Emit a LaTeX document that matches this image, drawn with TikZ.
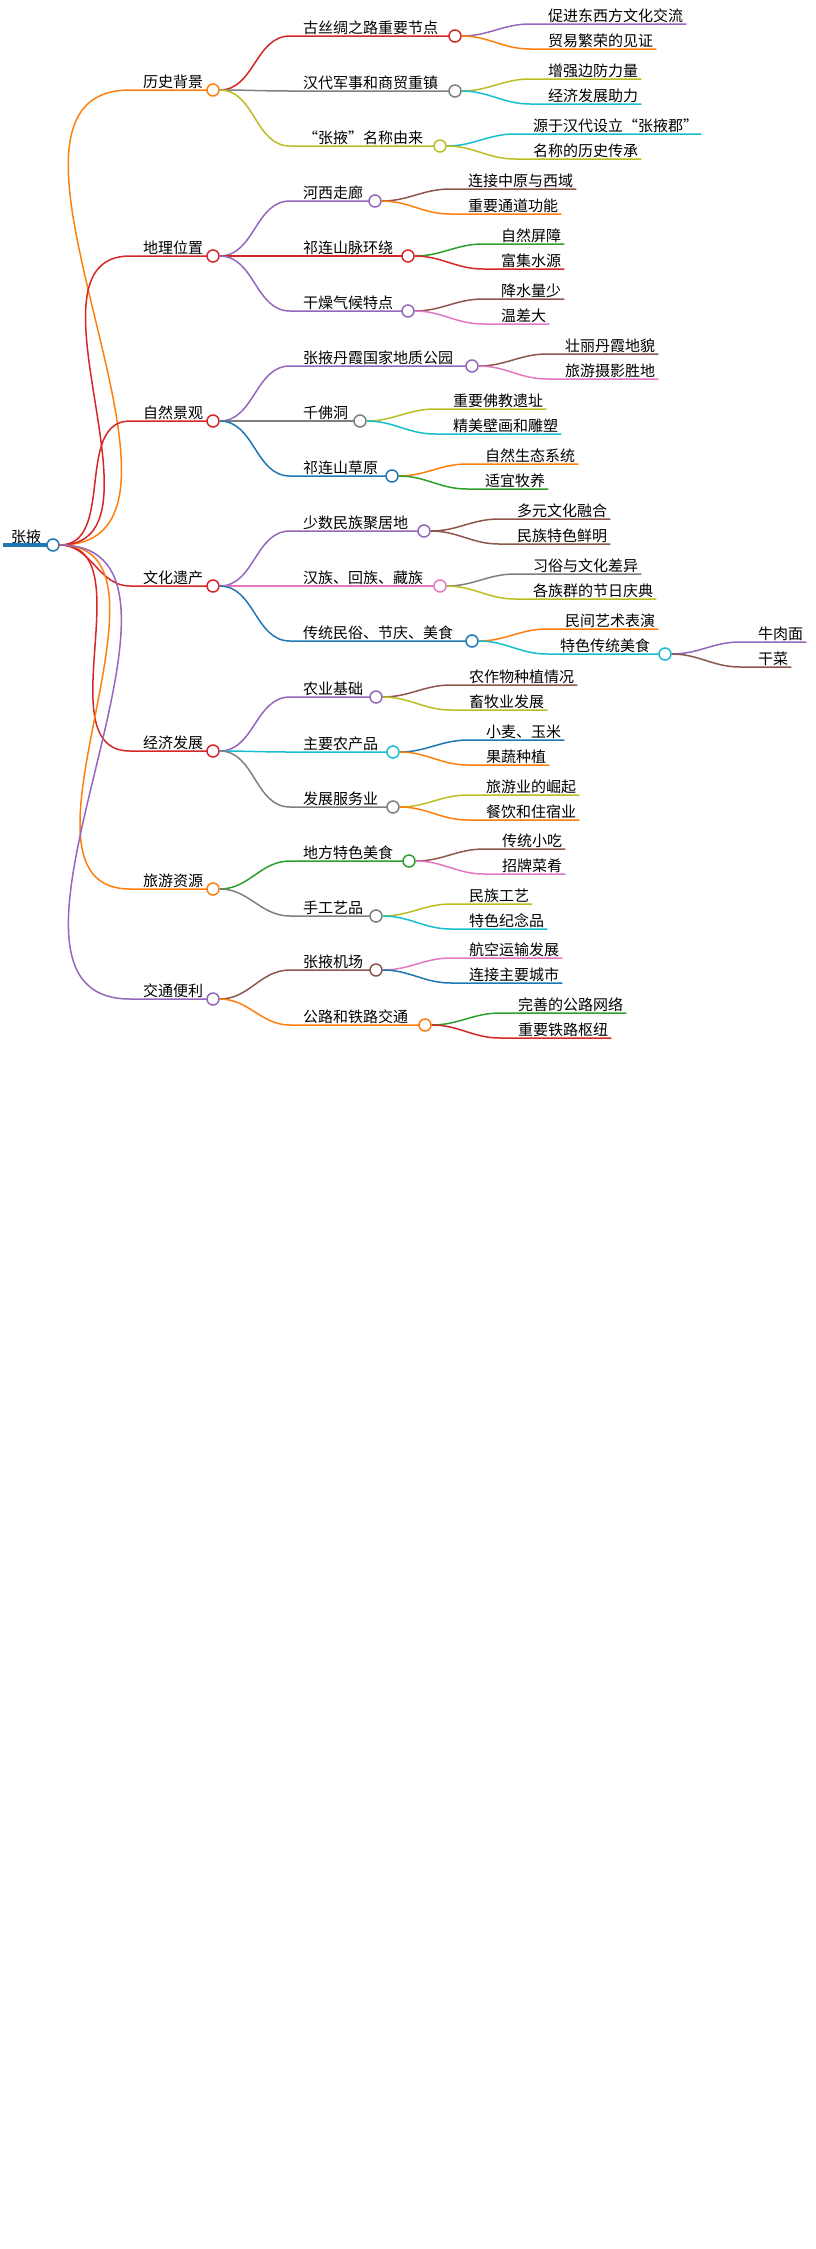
\documentclass[tikz,border=0pt]{standalone}
\usepackage{fontspec}
\setmainfont{Noto Sans CJK SC}
\definecolor{tblue}{HTML}{1F77B4}
\definecolor{torange}{HTML}{FF7F0E}
\definecolor{tgreen}{HTML}{2CA02C}
\definecolor{tred}{HTML}{D62728}
\definecolor{tpurple}{HTML}{9467BD}
\definecolor{tbrown}{HTML}{8C564B}
\definecolor{tpink}{HTML}{E377C2}
\definecolor{tgray}{HTML}{7F7F7F}
\definecolor{tolive}{HTML}{BCBD22}
\definecolor{tcyan}{HTML}{17BECF}
\tikzset{
	lbl/.style={inner xsep=3pt,inner ysep=1pt,font=\fontsize{15}{17}\selectfont},
	dot/.style={circle,minimum size=12pt,inner sep=0pt,fill=white,line width=1.5pt},
	edge/.style={line width=1.5pt}
}
% parent, name, line x, y, circle x, colour, text
\newcommand{\kid}[7]{%
	\node[lbl,anchor=south west] (#2t) at (#3+10,#4) {#7};
	\draw[edge,#6] (#1) to[out=0,in=180] (#3,#4) -- (#5,#4);
	\node[dot,draw=#6] (#2) at (#5,#4) {};}
% parent, name, line x, y, colour, text
\newcommand{\leaf}[6]{%
	\node[lbl,anchor=south west] (#2) at (#3+15,#4) {#6};
	\draw[edge,#5] (#1) to[out=0,in=180] (#3,#4) -- (#2.south east);}
\begin{document}
\begin{tikzpicture}[x=1pt,y=-1pt]
	\useasboundingbox (0,0) rectangle (816,2249);
	
	\node[lbl,anchor=south west] (roott) at (8,545) {张掖};
	\draw[tblue,line width=4pt] (3,545) -- (48,545);
	\node[dot,draw=tblue] (root) at (53,545) {};
	
	% first level
	\kid{root}{hist}{130}{90}{213}{torange}{历史背景}
	\kid{root}{geo}{130}{256}{213}{tred}{地理位置}
	\kid{root}{nat}{130}{421}{213}{tred}{自然景观}
	\kid{root}{cul}{130}{586}{213}{tred}{文化遗产}
	\kid{root}{eco}{130}{751}{213}{tred}{经济发展}
	\kid{root}{tour}{130}{889}{213}{torange}{旅游资源}
	\kid{root}{traf}{130}{999}{213}{tpurple}{交通便利}
	
	% history
	\kid{hist}{silk}{290}{36}{455}{tred}{古丝绸之路重要节点}
	\kid{hist}{han}{290}{91}{455}{tgray}{汉代军事和商贸重镇}
	\kid{hist}{name}{290}{146}{440}{tolive}{“张掖”名称由来}
	\leaf{silk}{silka}{530}{24}{tpurple}{促进东西方文化交流}
	\leaf{silk}{silkb}{530}{49}{torange}{贸易繁荣的见证}
	\leaf{han}{hana}{530}{79}{tolive}{增强边防力量}
	\leaf{han}{hanb}{530}{104}{tcyan}{经济发展助力}
	\leaf{name}{namea}{515}{134}{tcyan}{源于汉代设立“张掖郡”}
	\leaf{name}{nameb}{515}{159}{tolive}{名称的历史传承}
	
	% geography
	\kid{geo}{hexi}{290}{201}{375}{tpurple}{河西走廊}
	\kid{geo}{qlm}{290}{256}{408}{tred}{祁连山脉环绕}
	\kid{geo}{dry}{290}{311}{408}{tpurple}{干燥气候特点}
	\leaf{hexi}{hexia}{450}{189}{tbrown}{连接中原与西域}
	\leaf{hexi}{hexib}{450}{214}{torange}{重要通道功能}
	\leaf{qlm}{qlma}{483}{244}{tgreen}{自然屏障}
	\leaf{qlm}{qlmb}{483}{269}{tred}{富集水源}
	\leaf{dry}{drya}{483}{299}{tbrown}{降水量少}
	\leaf{dry}{dryb}{483}{324}{tpink}{温差大}
	
	% nature
	\kid{nat}{danx}{290}{366}{472}{tpurple}{张掖丹霞国家地质公园}
	\kid{nat}{qfd}{290}{421}{360}{tgray}{千佛洞}
	\kid{nat}{grass}{290}{476}{392}{tblue}{祁连山草原}
	\leaf{danx}{danxa}{547}{354}{tbrown}{壮丽丹霞地貌}
	\leaf{danx}{danxb}{547}{379}{tpink}{旅游摄影胜地}
	\leaf{qfd}{qfda}{435}{409}{tolive}{重要佛教遗址}
	\leaf{qfd}{qfdb}{435}{434}{tcyan}{精美壁画和雕塑}
	\leaf{grass}{grassa}{467}{464}{torange}{自然生态系统}
	\leaf{grass}{grassb}{467}{489}{tgreen}{适宜牧养}
	
	% culture
	\kid{cul}{mino}{290}{531}{424}{tpurple}{少数民族聚居地}
	\kid{cul}{eth}{290}{586}{440}{tpink}{汉族、回族、藏族}
	\kid{cul}{fest}{290}{641}{472}{tblue}{传统民俗、节庆、美食}
	\leaf{mino}{minoa}{499}{519}{tbrown}{多元文化融合}
	\leaf{mino}{minob}{499}{544}{tbrown}{民族特色鲜明}
	\leaf{eth}{etha}{515}{574}{tgray}{习俗与文化差异}
	\leaf{eth}{ethb}{515}{599}{tolive}{各族群的节日庆典}
	\leaf{fest}{festa}{547}{629}{torange}{民间艺术表演}
	\kid{fest}{food}{547}{654}{665}{tcyan}{特色传统美食}
	\leaf{food}{fooda}{740}{642}{tpurple}{牛肉面}
	\leaf{food}{foodb}{740}{667}{tbrown}{干菜}
	
	% economy
	\kid{eco}{agri}{290}{697}{376}{tpurple}{农业基础}
	\kid{eco}{prod}{290}{752}{393}{tcyan}{主要农产品}
	\kid{eco}{serv}{290}{807}{393}{tgray}{发展服务业}
	\leaf{agri}{agria}{451}{685}{tbrown}{农作物种植情况}
	\leaf{agri}{agrib}{451}{710}{tolive}{畜牧业发展}
	\leaf{prod}{proda}{468}{740}{tblue}{小麦、玉米}
	\leaf{prod}{prodb}{468}{765}{torange}{果蔬种植}
	\leaf{serv}{serva}{468}{795}{tolive}{旅游业的崛起}
	\leaf{serv}{servb}{468}{820}{torange}{餐饮和住宿业}
	
	% tourism
	\kid{tour}{snack}{290}{861}{409}{tgreen}{地方特色美食}
	\kid{tour}{craft}{290}{916}{376}{tgray}{手工艺品}
	\leaf{snack}{snacka}{484}{849}{tbrown}{传统小吃}
	\leaf{snack}{snackb}{484}{874}{tpink}{招牌菜肴}
	\leaf{craft}{crafta}{451}{904}{tolive}{民族工艺}
	\leaf{craft}{craftb}{451}{929}{tcyan}{特色纪念品}
	
	% traffic
	\kid{traf}{air}{290}{970}{376}{tbrown}{张掖机场}
	\kid{traf}{road}{290}{1025}{425}{torange}{公路和铁路交通}
	\leaf{air}{aira}{451}{958}{tpink}{航空运输发展}
	\leaf{air}{airb}{451}{983}{tblue}{连接主要城市}
	\leaf{road}{roada}{500}{1013}{tgreen}{完善的公路网络}
	\leaf{road}{roadb}{500}{1038}{tred}{重要铁路枢纽}
\end{tikzpicture}
\end{document}
